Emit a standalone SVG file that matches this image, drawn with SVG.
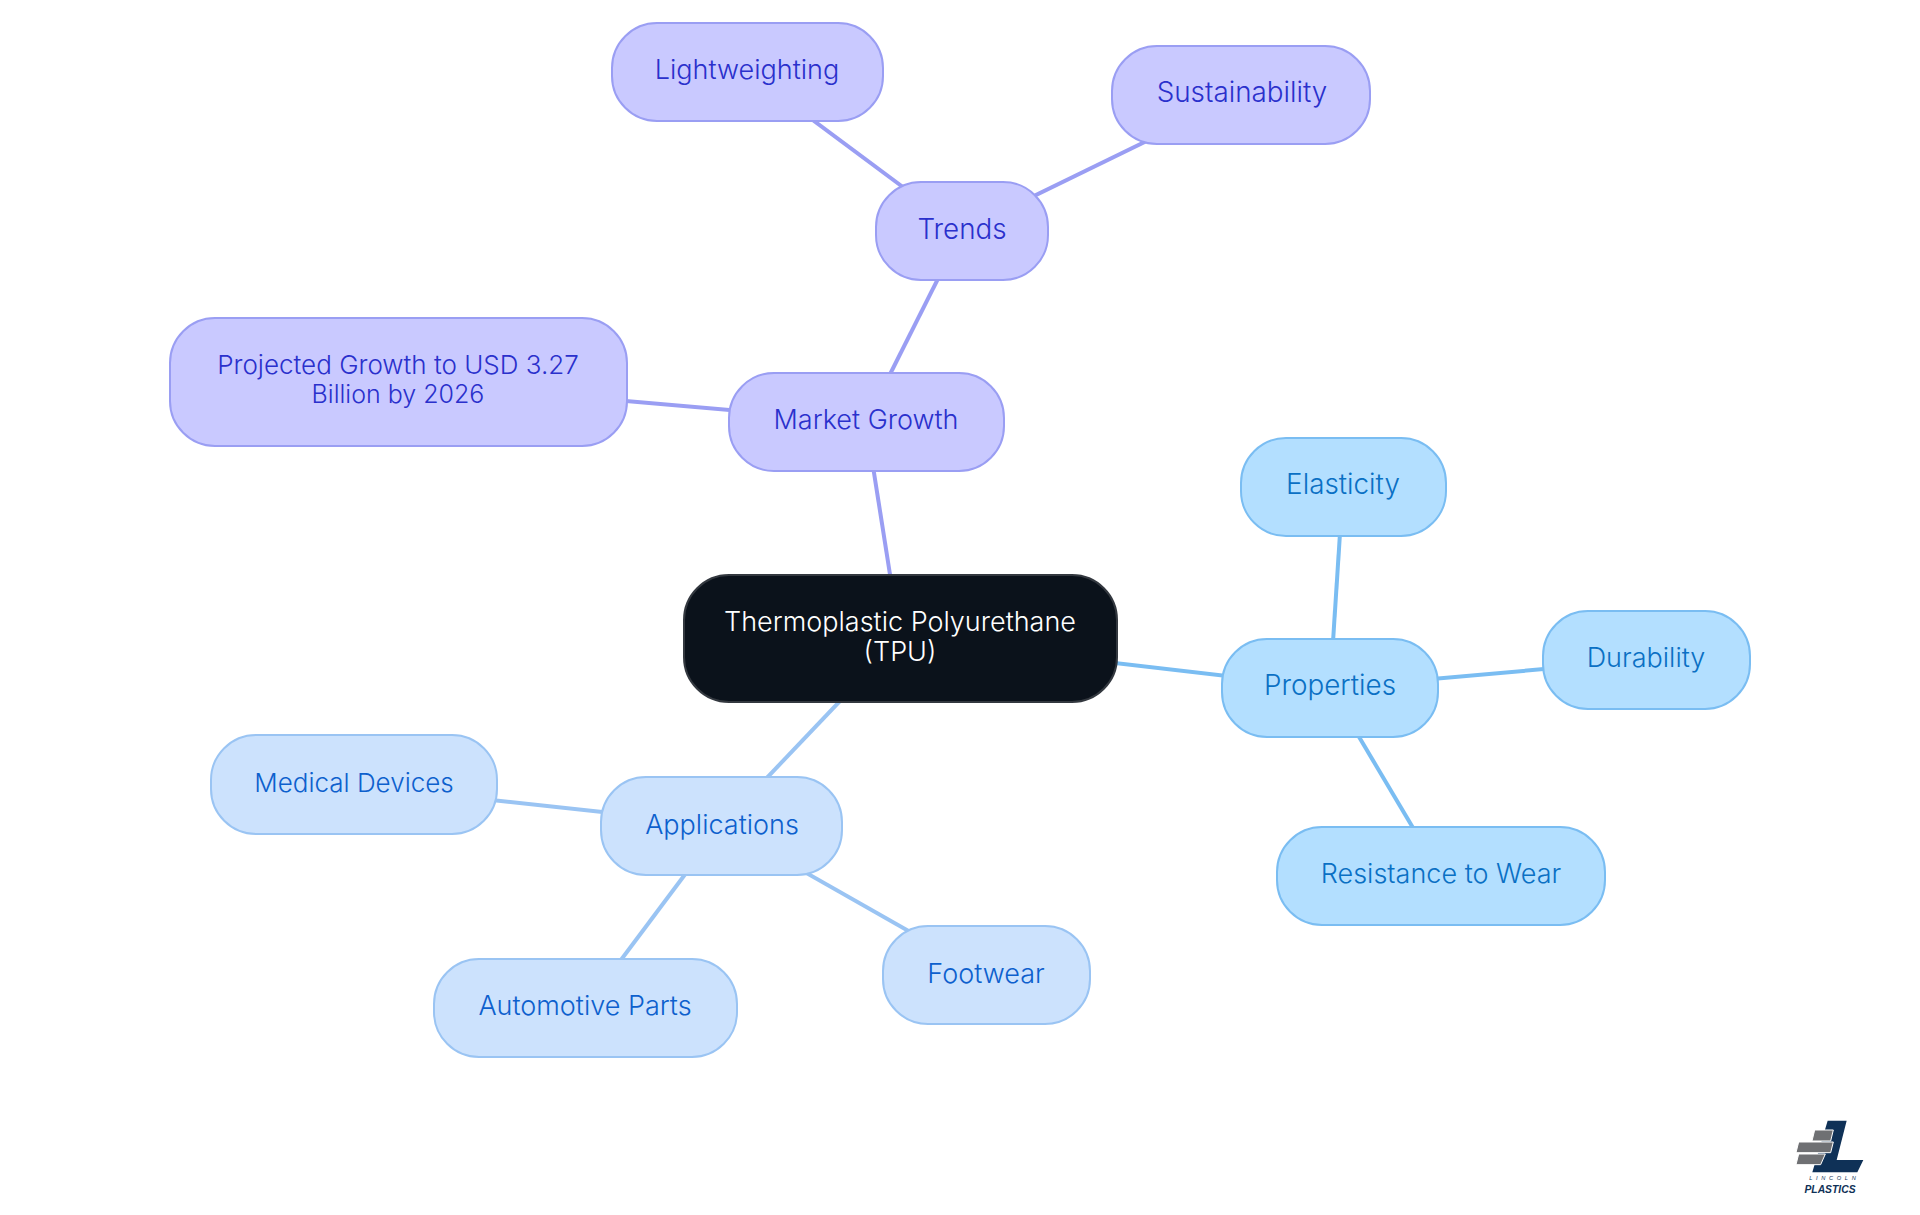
<svg xmlns="http://www.w3.org/2000/svg" width="1920" height="1215" viewBox="0 0 1920 1215">
<style>
text{font-family:"Inter","Noto Sans",sans-serif;font-size:27px;font-weight:300;text-anchor:middle}
.n rect{stroke-width:2}
.c line{stroke-width:4;fill:none}
.pu rect{fill:#c9c9ff;stroke:#9a9ef3}.pu text{fill:#2a30cc}
.sk rect{fill:#b3dfff;stroke:#7abdf2}.sk text{fill:#0a70c4}
.lb rect{fill:#cce2fd;stroke:#9ac4f3}.lb text{fill:#0d60cd}
.r rect{fill:#0b121b;stroke:#33383f}.r text{fill:#fff}
.w{font-size:27.8px}.s26{font-size:26px}.s25{font-size:25px}
</style>
<rect width="1920" height="1215" fill="#fff"/>
<g id="connectors" class="c">
<g stroke="#9a9ef3"><line x1="900" y1="638" x2="866" y2="422"/><line x1="866" y1="422" x2="398" y2="381"/><line x1="866" y1="422" x2="962" y2="231"/><line x1="962" y1="231" x2="747" y2="71"/><line x1="962" y1="231" x2="1241" y2="95"/></g>
<g stroke="#7abdf2"><line x1="900" y1="638" x2="1330" y2="688"/><line x1="1330" y1="688" x2="1343" y2="487"/><line x1="1330" y1="688" x2="1646" y2="660"/><line x1="1330" y1="688" x2="1441" y2="875"/></g>
<g stroke="#9ac4f3"><line x1="900" y1="638" x2="722" y2="825"/><line x1="722" y1="825" x2="354" y2="785"/><line x1="722" y1="825" x2="585" y2="1008"/><line x1="722" y1="825" x2="986" y2="975"/></g>
</g>
<g id="root" class="n r"><rect x="684" y="575" width="433" height="127" rx="45"/><text x="900" y="631">Thermoplastic Polyurethane</text><text x="900" y="661">(TPU)</text></g>
<g id="market-growth" class="n pu"><rect x="729" y="373" width="275" height="98" rx="45"/><text x="866" y="429">Market Growth</text></g>
<g id="projected" class="n pu"><rect x="170" y="318" width="457" height="128" rx="45"/><text class="s26" x="398" y="374">Projected Growth to USD 3.27</text><text class="s25" x="398" y="403">Billion by 2026</text></g>
<g id="trends" class="n pu"><rect x="876" y="182" width="172" height="98" rx="45"/><text class="w" x="962" y="239">Trends</text></g>
<g id="lightweighting" class="n pu"><rect x="612" y="23" width="271" height="98" rx="45"/><text x="747" y="79">Lightweighting</text></g>
<g id="sustainability" class="n pu"><rect x="1112" y="46" width="258" height="98" rx="45"/><text class="w" x="1242" y="102">Sustainability</text></g>
<g id="properties" class="n sk"><rect x="1222" y="639" width="216" height="98" rx="45"/><text class="w" x="1330" y="695">Properties</text></g>
<g id="elasticity" class="n sk"><rect x="1241" y="438" width="205" height="98" rx="45"/><text class="w" x="1343" y="494">Elasticity</text></g>
<g id="durability" class="n sk"><rect x="1543" y="611" width="207" height="98" rx="45"/><text x="1646" y="667">Durability</text></g>
<g id="resistance" class="n sk"><rect x="1277" y="827" width="328" height="98" rx="45"/><text x="1441" y="883">Resistance to Wear</text></g>
<g id="applications" class="n lb"><rect x="601" y="777" width="241" height="98" rx="45"/><text x="722" y="834">Applications</text></g>
<g id="medical" class="n lb"><rect x="211" y="735" width="286" height="99" rx="45"/><text class="s26" x="354" y="792">Medical Devices</text></g>
<g id="automotive" class="n lb"><rect x="434" y="959" width="303" height="98" rx="45"/><text x="585" y="1015">Automotive Parts</text></g>
<g id="footwear" class="n lb"><rect x="883" y="926" width="207" height="98" rx="45"/><text x="986" y="983">Footwear</text></g>
<g id="logo" transform="translate(1780 1110) scale(.3333)">
<polygon points="143,32 200,32 170,150 250,150 232,187 97,187" fill="#0f3157"/>
<g fill="#6f7073" stroke="#fff" stroke-width="3"><polygon points="104,60 160,60 152,93 96,93"/><polygon points="56,96 160,96 152,128 48,128"/><polygon points="56,132 136,132 122,164 48,164"/></g>
<text x="163" y="211" style="font-size:17px;letter-spacing:11px;fill:#123358;font-family:'Liberation Sans',sans-serif;font-weight:400;font-style:italic">LINCOLN</text>
<text x="150" y="248" style="font-size:31px;fill:#0f3157;font-family:'Liberation Sans',sans-serif;font-weight:700;font-style:italic">PLASTICS</text>
</g>
</svg>
